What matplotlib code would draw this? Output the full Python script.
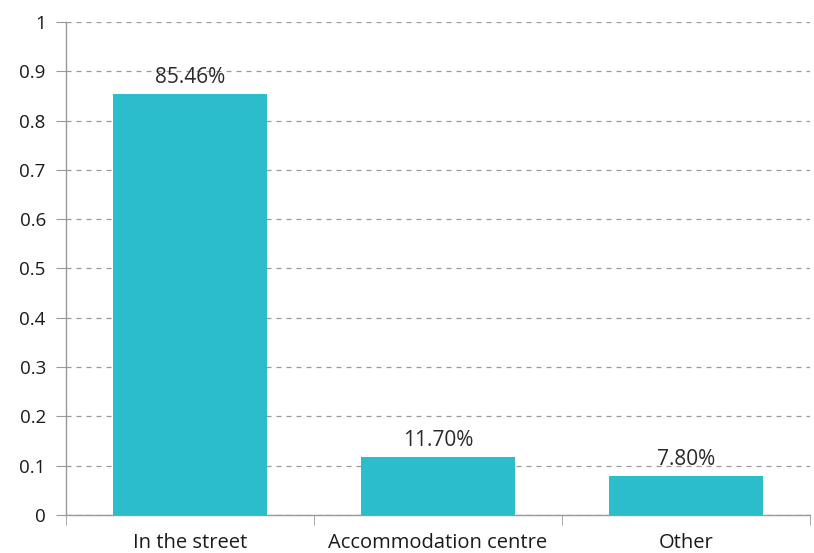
import matplotlib.pyplot as plt
import numpy as np

# Data
categories = ['In the street', 'Accommodation centre', 'Other']
values = [0.8546, 0.117, 0.078]
labels = ['85.46%', '11.70%', '7.80%']
yticks = [0, 0.1, 0.2, 0.3, 0.4, 0.5, 0.6, 0.7, 0.8, 0.9, 1]
ytick_labels = ['0', '0.1', '0.2', '0.3', '0.4', '0.5', '0.6', '0.7', '0.8', '0.9', '1']

plt.rcParams['font.family'] = ['Open Sans', 'DejaVu Sans']

fig = plt.figure(figsize=(8.14, 5.53), dpi=100)
ax = fig.add_axes([0.081, 0.069, 0.914, 0.891])

x = np.arange(len(categories))
ax.bar(x, values, width=0.62, color='#2bbdcc', zorder=3)

for xi, v, lab in zip(x, values, labels):
    ax.text(xi, v + 0.012, lab, ha='center', va='bottom', fontsize=15, color='#2a2a2a', zorder=4)

ax.set_xlim(-0.5, 2.5)
ax.set_ylim(0, 1)
ax.set_yticks(yticks)
ax.set_yticklabels(ytick_labels, fontsize=13.5)
ax.set_xticks(x)
ax.set_xticklabels(categories, fontsize=14.5)
ax.set_xticks([-0.5, 0.5, 1.5, 2.5], minor=True)

ax.yaxis.grid(True, linestyle=(0, (4, 4)), color='#999999', linewidth=0.9, zorder=0)
ax.tick_params(axis='y', length=7, color='#999999', pad=7.5, labelcolor='#1a1a1a')
ax.tick_params(axis='x', which='major', length=0, pad=13, labelcolor='#1a1a1a')
ax.tick_params(axis='x', which='minor', length=7, color='#999999')

for s in ['top', 'right']:
    ax.spines[s].set_visible(False)
for s in ['left', 'bottom']:
    ax.spines[s].set_color('#999999')
    ax.spines[s].set_linewidth(1.0)

fig.savefig('out.png', dpi=100)
